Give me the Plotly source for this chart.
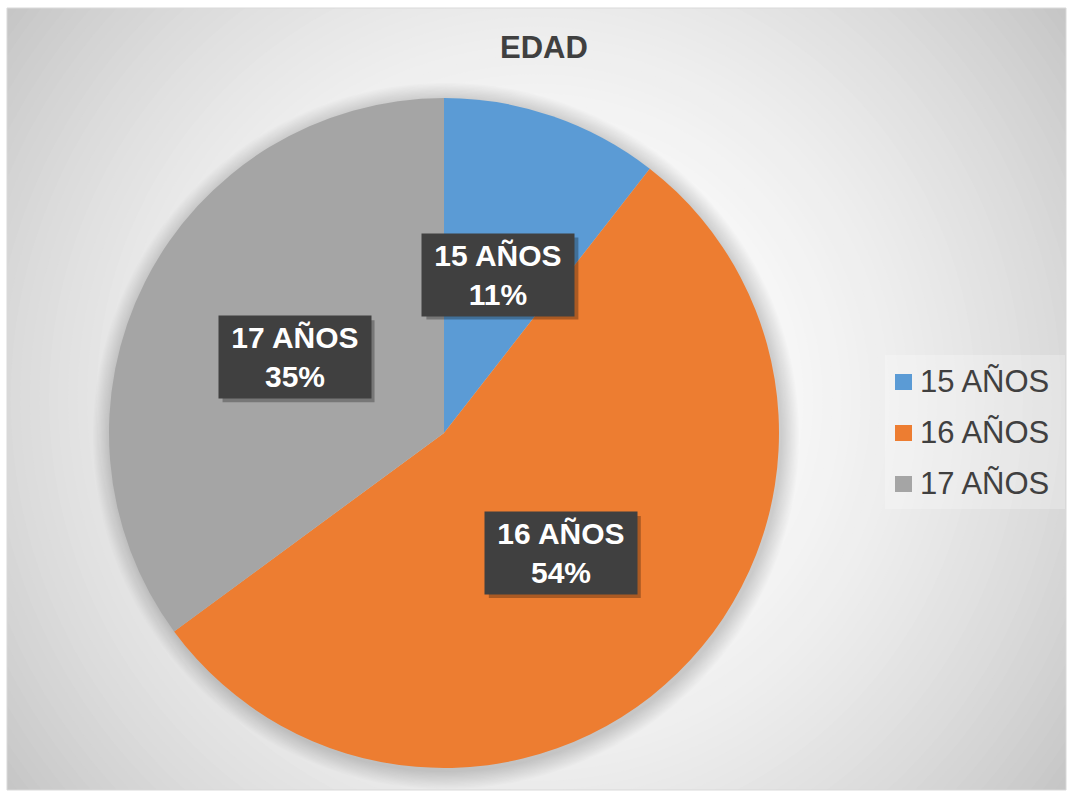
import math
import plotly.graph_objects as go

# ---- data ----
categories = ["15 AÑOS", "16 AÑOS", "17 AÑOS"]
counts = [6, 31, 20]
colors = ["#5B9BD5", "#ED7D31", "#A5A5A5"]
title_text = "EDAD"

W, H = 1072, 791
# frame (chart area) in pixels
FX0, FY0, FX1, FY1 = 7, 8, 1066, 790
# pie geometry in pixels
CX, CY, R = 444, 433, 335

total = sum(counts)
pcts = [c / total for c in counts]

fig = go.Figure()

# dummy axes covering the frame with pixel coordinates
fig.add_trace(go.Scatter(x=[FX0], y=[FY0], mode="markers", marker=dict(opacity=0),
                         showlegend=False, hoverinfo="skip"))

fig.add_trace(go.Pie(
    labels=categories, values=counts, sort=False, direction="clockwise", rotation=0,
    marker=dict(colors=colors, line=dict(width=0)),
    textinfo="none", showlegend=False, hoverinfo="label+percent",
    domain=dict(x=[(CX - R) / W, (CX + R) / W], y=[1 - (CY + R) / H, 1 - (CY - R) / H]),
))

shapes = []
# radial gradient background
gcx, gcy = 536, 399
dmax = math.hypot(FX1 - gcx, FY1 - gcy) + 10
steps = 70
for i in range(steps, 0, -1):
    r = dmax * i / steps
    v = int(round(255 - 59 * (r / dmax) ** 2))
    shapes.append(dict(type="circle", xref="x", yref="y", layer="below",
                       x0=gcx - r, x1=gcx + r, y0=gcy - r, y1=gcy + r,
                       fillcolor=f"rgb({v},{v},{v})", line=dict(width=0)))
# soft shadow around pie
for j in range(14, 0, -1):
    rr = R + j * 1.3
    shapes.append(dict(type="circle", xref="x", yref="y", layer="below",
                       x0=CX + 2 - rr, x1=CX + 2 + rr, y0=CY + 3 - rr, y1=CY + 3 + rr,
                       fillcolor="rgba(0,0,0,0.012)", line=dict(width=0)))
# frame border
shapes.append(dict(type="rect", xref="paper", yref="paper",
                   x0=FX0 / W, x1=FX1 / W, y0=1 - FY1 / H, y1=1 - FY0 / H,
                   line=dict(color="#d9d9d9", width=1), fillcolor="rgba(0,0,0,0)", layer="above"))

annotations = []
# data labels
BW, BH, PAD = 142, 72, 5
cum = 0.0
for cat, p in zip(categories, pcts):
    mid = (cum + p / 2) * 2 * math.pi
    cum += p
    lx = CX + 0.5 * R * math.sin(mid)
    ly = CY - 0.5 * R * math.cos(mid)
    txt = f"<b>{cat}<br>{round(p * 100)}%</b>"
    # shadow box behind the label
    hw, hh = BW / 2 + PAD, BH / 2 + PAD
    shapes.append(dict(type="rect", xref="x", yref="y", layer="above",
                       x0=lx - hw + 4, x1=lx + hw + 4, y0=ly - hh + 4, y1=ly + hh + 4,
                       fillcolor="rgba(0,0,0,0.28)", line=dict(width=0)))
    annotations.append(dict(x=lx, y=ly, xref="x", yref="y", text=txt, showarrow=False,
                            font=dict(family="Liberation Sans, Arial", size=30, color="white"),
                            bgcolor="#404040", width=BW, height=BH, borderpad=PAD,
                            xanchor="center", yanchor="middle"))

# custom legend
LX, LY0, LDY = 903.5, 382, 51
shapes.append(dict(type="rect", xref="x", yref="y", layer="below",
                   x0=885, x1=1065, y0=355, y1=509,
                   fillcolor="rgba(255,255,255,0.25)", line=dict(width=0)))
for k, (cat, col) in enumerate(zip(categories, colors)):
    yy = LY0 + k * LDY
    shapes.append(dict(type="rect", xref="x", yref="y", layer="above",
                       x0=LX - 8.5, x1=LX + 8.5, y0=yy - 8, y1=yy + 8,
                       fillcolor=col, line=dict(width=0)))
    annotations.append(dict(x=918, y=yy, xref="x", yref="y", text=cat, showarrow=False,
                            font=dict(family="Liberation Sans, Arial", size=31, color="#404040"),
                            xanchor="left", yanchor="middle"))

# title
annotations.append(dict(x=544, y=48, xref="x", yref="y", text=f"<b>{title_text}</b>", showarrow=False,
                        font=dict(family="Liberation Sans, Arial", size=31, color="#404040"),
                        xanchor="center", yanchor="middle"))

v_edge = int(round(255 - 59))
fig.update_layout(
    width=W, height=H,
    margin=dict(l=0, r=0, t=0, b=0),
    paper_bgcolor="white",
    plot_bgcolor=f"rgb({v_edge},{v_edge},{v_edge})",
    xaxis=dict(domain=[FX0 / W, FX1 / W], range=[FX0, FX1], visible=False, fixedrange=True),
    yaxis=dict(domain=[1 - FY1 / H, 1 - FY0 / H], range=[FY1, FY0], visible=False, fixedrange=True),
    shapes=shapes,
    annotations=annotations,
    showlegend=False,
)

fig.write_html("out.html", config={"displayModeBar": False},
               post_script="document.body.style.margin='0';document.body.style.overflow='hidden';")
